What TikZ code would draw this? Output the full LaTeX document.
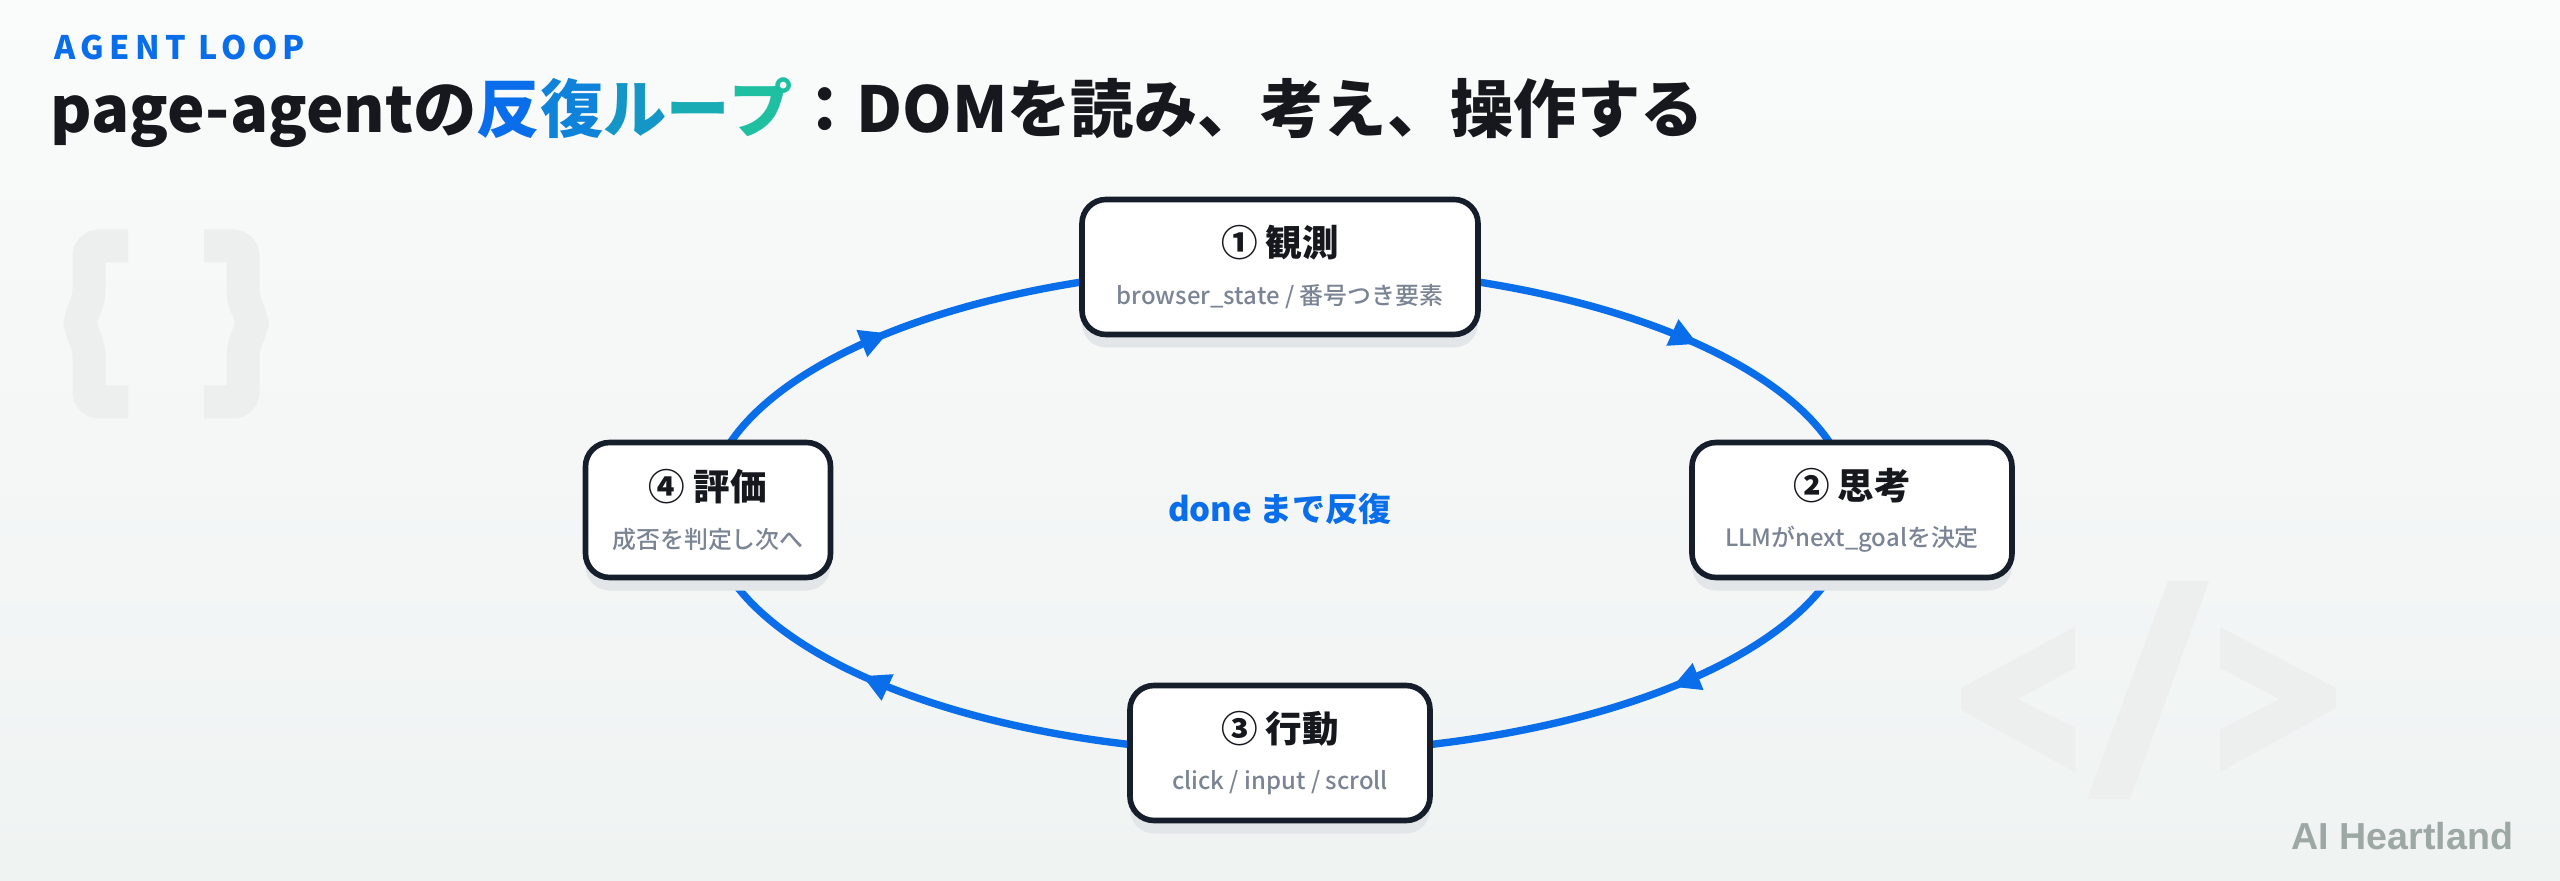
\documentclass[tikz,border=0pt]{standalone}
\usepackage{fontspec}
\setmainfont{Noto Sans CJK JP}
\newfontfamily\heavyjp{Noto Sans CJK JP Black}
\newfontfamily\mediumjp{Noto Sans CJK JP Medium}
\newfontfamily\brandfont{Liberation Sans}
\usetikzlibrary{positioning}
\usetikzlibrary{arrows.meta}
\usetikzlibrary{decorations.markings}
\usetikzlibrary{shadows}
\definecolor{loopblue}{HTML}{0A6EEB}
\definecolor{gradend}{HTML}{1FC0A2}
\definecolor{inkblack}{HTML}{16181D}
\definecolor{boxline}{HTML}{161E2C}
\definecolor{subgray}{HTML}{7B8494}
\definecolor{shadowgray}{HTML}{E3E6E8}
\definecolor{decogray}{HTML}{EDEFEF}
\definecolor{brandgray}{HTML}{9DA8A4}
\definecolor{bgtop}{HTML}{FAFBFB}
\definecolor{bgbottom}{HTML}{EFF3F2}
\colorlet{grad1}{gradend!25!loopblue}
\colorlet{grad2}{gradend!50!loopblue}
\colorlet{grad3}{gradend!75!loopblue}
\pgfdeclarelayer{back}
\pgfdeclarelayer{loop}
\pgfsetlayers{back,loop,main}
\tikzset{midarrow/.style = {decoration={markings,
                                        mark=at position #1
                                        with {\arrow{Triangle[length=0.28cm,width=0.27cm]}}},
                            postaction={decorate}}}
\tikzset{loopline/.style = {draw=loopblue, line width=2.1pt}}
\tikzset{stepbox/.style = {draw=boxline, line width=1.6pt, fill=white,
                           rounded corners=0.24cm, minimum height=1.35cm,
                           inner sep=0pt, align=center,
                           general shadow={fill=shadowgray, shadow yshift=-0.13cm}}}
\tikzset{deco/.style = {fill=decogray, draw=none}}
\tikzset{brace/.style = {draw=decogray, line width=0.33cm, rounded corners=0.1cm}}
\newcommand{\steptitle}[1]{{\heavyjp\fontsize{10.4}{12}\selectfont\color{inkblack}#1}}
\newcommand{\stepsub}[1]{{\mediumjp\fontsize{6.8}{8}\selectfont\color{subgray}#1}}
\newcommand{\rx}{5.72cm}
\newcommand{\ry}{2.43cm}

\begin{document}
\begin{tikzpicture}
    \useasboundingbox (0,0) rectangle (25.6,8.8);
    \begin{pgfonlayer}{back}
        \shade[top color=bgtop, bottom color=bgbottom] (0,0) rectangle (25.6,8.8);
        % braces, top left
        \draw[brace] (1.28,6.34) -- (0.89,6.34) -- (0.89,5.80) -- (0.80,5.62)
          -- (0.80,5.52) -- (0.89,5.34) -- (0.89,4.78) -- (1.28,4.78);
        \draw[brace] (2.04,6.34) -- (2.43,6.34) -- (2.43,5.80) -- (2.52,5.62)
          -- (2.52,5.52) -- (2.43,5.34) -- (2.43,4.78) -- (2.04,4.78);
        % </> bottom right
        \fill[deco] (20.75,2.53) -- (19.61,1.92) -- (19.61,1.70) -- (20.75,1.08)
          -- (20.75,1.52) -- (20.18,1.81) -- (20.75,2.12) -- cycle;
        \fill[deco] (21.68,2.99) -- (22.09,2.99) -- (21.30,0.81) -- (20.87,0.81) -- cycle;
        \fill[deco] (22.20,2.53) -- (23.36,1.92) -- (23.36,1.72) -- (22.20,1.08)
          -- (22.20,1.50) -- (22.79,1.81) -- (22.20,2.12) -- cycle;
    \end{pgfonlayer}

    \node[anchor=base west, text=loopblue, inner sep=0pt] (kicker) at (0.54,8.20)
      {\bfseries\fontsize{9.2}{11}\selectfont\addfontfeatures{LetterSpace=16}AGENT LOOP};
    \node[anchor=base west, text=inkblack, inner sep=0pt] (title) at (0.50,7.47)
      {\heavyjp\fontsize{18}{20}\selectfont page-agentの{\color{loopblue}反}{\color{grad1}復}{\color{grad2}ル}{\color{grad3}ー}{\color{gradend}プ}：DOMを読み、考え、操作する};

    \node[stepbox, minimum width=3.96cm] (obs) at (12.80,6.13)
      {\steptitle{① 観測}\\[0.05cm]\stepsub{browser\_state / 番号つき要素}};
    \node[stepbox, minimum width=3.20cm] (think) at (18.52,3.70)
      {\steptitle{② 思考}\\[0.05cm]\stepsub{LLMがnext\_goalを決定}};
    \node[stepbox, minimum width=3.00cm] (act) at (12.80,1.27)
      {\steptitle{③ 行動}\\[0.05cm]\stepsub{click / input / scroll}};
    \node[stepbox, minimum width=2.45cm] (eval) at (7.08,3.70)
      {\steptitle{④ 評価}\\[0.05cm]\stepsub{成否を判定し次へ}};
    \node[text=loopblue] (until) at (12.80,3.71)
      {\heavyjp\fontsize{9.4}{11}\selectfont done まで反復};

    \begin{pgfonlayer}{loop}
        \draw[loopline, midarrow=0.642] (obs.center)
          arc[start angle=90, end angle=0, x radius=\rx, y radius=\ry];
        \draw[loopline, midarrow=0.400] (think.center)
          arc[start angle=0, end angle=-90, x radius=\rx, y radius=\ry];
        \draw[loopline, midarrow=0.642] (act.center)
          arc[start angle=-90, end angle=-180, x radius=\rx, y radius=\ry];
        \draw[loopline, midarrow=0.400] (eval.center)
          arc[start angle=180, end angle=90, x radius=\rx, y radius=\ry];
    \end{pgfonlayer}

    \node[anchor=base east, text=brandgray, inner sep=0pt] (brand) at (25.14,0.31)
      {\brandfont\bfseries\fontsize{10.7}{12}\selectfont AI Heartland};
\end{tikzpicture}
\end{document}
